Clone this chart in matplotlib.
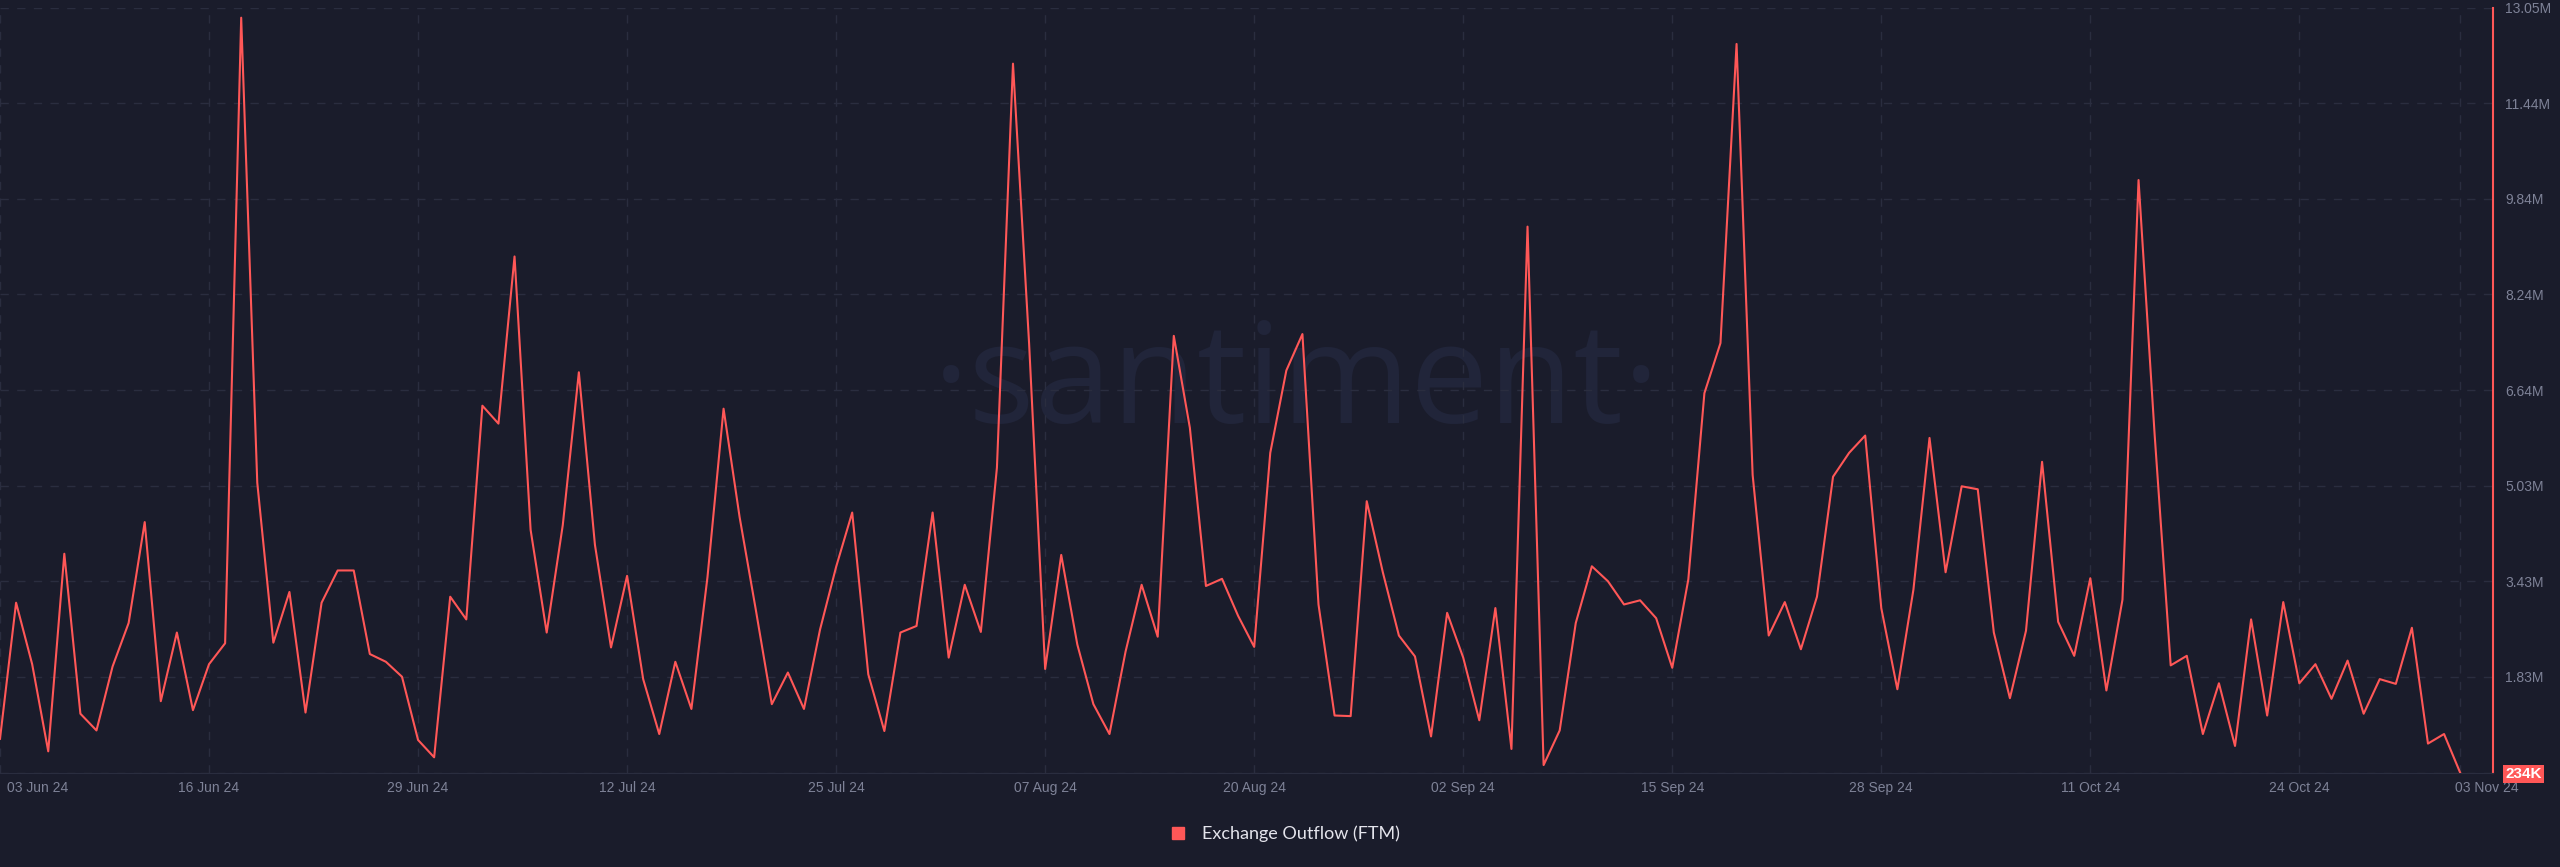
import pandas as pd
import matplotlib.pyplot as plt
import matplotlib.transforms as mtransforms
from matplotlib.lines import Line2D

# Daily exchange outflow (FTM), in millions, 03 Jun 24 -> 03 Nov 24
dates = pd.date_range('2024-06-03', '2024-11-03', freq='D')
outflow = [
    0.80, 3.08, 2.05, 0.59, 3.90, 1.22, 0.94, 2.01, 2.74, 4.43,
    1.43, 2.58, 1.28, 2.05, 2.40, 12.88, 5.09, 2.41, 3.26, 1.24,
    3.08, 3.62, 3.62, 2.22, 2.09, 1.84, 0.78, 0.49, 3.18, 2.80,
    6.38, 6.08, 8.88, 4.30, 2.58, 4.38, 6.94, 4.05, 2.33, 3.53,
    1.80, 0.88, 2.09, 1.30, 3.51, 6.33, 4.51, 2.97, 1.38, 1.91,
    1.30, 2.63, 3.68, 4.59, 1.88, 0.93, 2.58, 2.69, 4.59, 2.16,
    3.38, 2.59, 5.34, 12.11, 7.43, 1.97, 3.88, 2.38, 1.38, 0.88,
    2.26, 3.38, 2.51, 7.55, 6.01, 3.36, 3.48, 2.86, 2.34, 5.59,
    6.97, 7.58, 3.05, 1.19, 1.18, 4.78, 3.59, 2.53, 2.18, 0.84,
    2.91, 2.16, 1.11, 2.99, 0.63, 9.38, 0.36, 0.94, 2.74, 3.69,
    3.44, 3.05, 3.12, 2.82, 1.99, 3.47, 6.59, 7.43, 12.44, 5.22,
    2.53, 3.09, 2.30, 3.18, 5.19, 5.59, 5.88, 2.99, 1.63, 3.30,
    5.84, 3.59, 5.03, 4.98, 2.58, 1.48, 2.61, 5.44, 2.76, 2.19,
    3.49, 1.61, 3.13, 10.16, 5.90, 2.03, 2.19, 0.88, 1.73, 0.68,
    2.80, 1.19, 3.09, 1.73, 2.05, 1.47, 2.11, 1.22, 1.80, 1.72,
    2.66, 0.72, 0.88, 0.234,
]

y_ticks = [0.234, 1.836, 3.438, 5.04, 6.642, 8.244, 9.846, 11.448, 13.05]
y_labels = ['234K', '1.83M', '3.43M', '5.03M', '6.64M', '8.24M', '9.84M', '11.44M', '13.05M']
x_ticks = pd.to_datetime(['2024-06-03', '2024-06-16', '2024-06-29', '2024-07-12', '2024-07-25',
                          '2024-08-07', '2024-08-20', '2024-09-02', '2024-09-15', '2024-09-28',
                          '2024-10-11', '2024-10-24', '2024-11-03'])
x_labels = [d.strftime('%d %b %y') for d in x_ticks]

bg = '#1a1c2b'
red = '#ff5757'
grid = '#2a2d3f'
tick_col = '#7e8297'

fig = plt.figure(figsize=(25.6, 8.67), dpi=100, facecolor=bg)
ax = fig.add_axes([0.0, 0.1089, 0.9738, 0.8824], facecolor=bg)

# watermark
ax.text(0.52, 0.505, '\u00b7santiment\u00b7', transform=ax.transAxes, ha='center', va='center',
        fontsize=100, color='#21253a', family='Open Sans', zorder=0)

ax.plot(dates, outflow, color=red, lw=1.5, zorder=3)

ax.set_xlim(dates[0], dates[0] + pd.Timedelta(days=155.04))
ax.set_ylim(0.234, 13.05)

ax.set_xticks(x_ticks)
ax.set_xticklabels(x_labels)
ax.yaxis.tick_right()
ax.set_yticks(y_ticks)
ax.set_yticklabels(y_labels)

ax.tick_params(axis='both', length=0, colors=tick_col, labelsize=10)
ax.tick_params(axis='x', pad=6)
ax.tick_params(axis='y', pad=9)
for lab in ax.get_xticklabels() + ax.get_yticklabels():
    lab.set_family('Liberation Sans')

# first / last date labels nudged like the source
xl = ax.get_xticklabels()
xl[0].set_horizontalalignment('left')
xl[0].set_transform(xl[0].get_transform() + mtransforms.ScaledTranslation(7 / 100, 0, fig.dpi_scale_trans))
xl[-1].set_transform(xl[-1].get_transform() + mtransforms.ScaledTranslation(27 / 100, 0, fig.dpi_scale_trans))

# 234K badge
yl = ax.get_yticklabels()
yl[0].set_color('white')
yl[0].set_fontsize(11)
yl[0].set_bbox(dict(boxstyle='square,pad=0.15', facecolor=red, edgecolor='none'))
yl[0].set_fontweight('bold')

ax.grid(True, color=grid, linestyle=(0, (6, 6)), linewidth=1)
for s in ['top', 'left']:
    ax.spines[s].set_visible(False)
ax.spines['bottom'].set_color(grid)
ax.spines['right'].set_color(red)
ax.spines['right'].set_linewidth(1.5)

handle = Line2D([], [], marker='s', color=red, linestyle='none', markersize=9)
leg = fig.legend([handle], ['Exchange Outflow (FTM)'], loc='center', bbox_to_anchor=(0.5, 0.038),
                 frameon=False, handletextpad=0.3, labelcolor='#e4e4ec',
                 prop={'family': 'Lato', 'size': 13})

fig.savefig('out.png', dpi=100, facecolor=bg)
